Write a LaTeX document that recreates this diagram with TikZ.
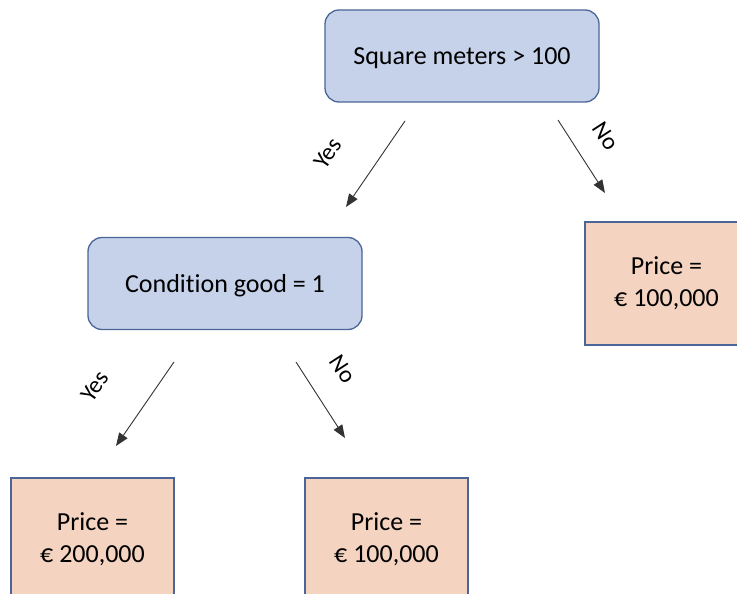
\documentclass[tikz,border=0pt]{standalone}
\usepackage{fontspec}
\setmainfont{Carlito}[Ligatures=NoCommon]
\usetikzlibrary{arrows.meta}
\definecolor{splitfill}{HTML}{C6D2EA}
\definecolor{leaffill}{HTML}{F4D4C1}
\definecolor{boxline}{HTML}{4A6597}
\definecolor{arrowline}{HTML}{333333}
\tikzset{
  splitbox/.style={draw=boxline, line width=1.3pt, fill=splitfill, rounded corners=14pt,
    minimum width=274pt, minimum height=92pt, inner sep=0pt, text depth=0pt,
    font=\fontsize{26}{31}\selectfont},
  leafbox/.style={draw=boxline, line width=1.3pt, fill=leaffill,
    minimum width=163pt, minimum height=123pt, inner sep=0pt, align=center,
    font=\fontsize{26}{32}\selectfont},
  branch/.style={draw=arrowline, line width=0.9pt, -{Triangle[length=13pt,width=10pt]}},
  branchlabel/.style={font=\fontsize{24}{28}\selectfont, inner sep=0pt}
}
\begin{document}
\begin{tikzpicture}[x=1pt,y=-1pt]
  \useasboundingbox (0,0) rectangle (737,594);
  \clip (0,0) rectangle (737,594);
  % decision nodes
  \node[splitbox] (root) at (462,56) {Square meters > 100};
  \node[splitbox] (cond) at (225,283.5) {Condition good = 1};
  % leaves
  \node[leafbox] (leafA) at (666.5,283.5) {Price =\\€ 100,000};
  \node[leafbox] (leafB) at (92.5,539.5) {Price =\\€ 200,000};
  \node[leafbox] (leafC) at (386.5,539.5) {Price =\\€ 100,000};
  % arrow end points
  \coordinate (r1) at (405,121);
  \coordinate (r1e) at (346,207);
  \coordinate (r2) at (558,120);
  \coordinate (r2e) at (605,193);
  \coordinate (c1) at (174,362);
  \coordinate (c1e) at (116,446);
  \coordinate (c2) at (296,362);
  \coordinate (c2e) at (345,438);
  \draw[branch] (r1) -- (r1e);
  \draw[branch] (r2) -- (r2e);
  \draw[branch] (c1) -- (c1e);
  \draw[branch] (c2) -- (c2e);
  % branch labels
  \node[branchlabel, rotate=55] (ryes) at (328,153) {Yes};
  \node[branchlabel, rotate=-57] (rno) at (606,136) {No};
  \node[branchlabel, rotate=55] (cyes) at (95,386) {Yes};
  \node[branchlabel, rotate=-57] (cno) at (343,369) {No};
\end{tikzpicture}
\end{document}
